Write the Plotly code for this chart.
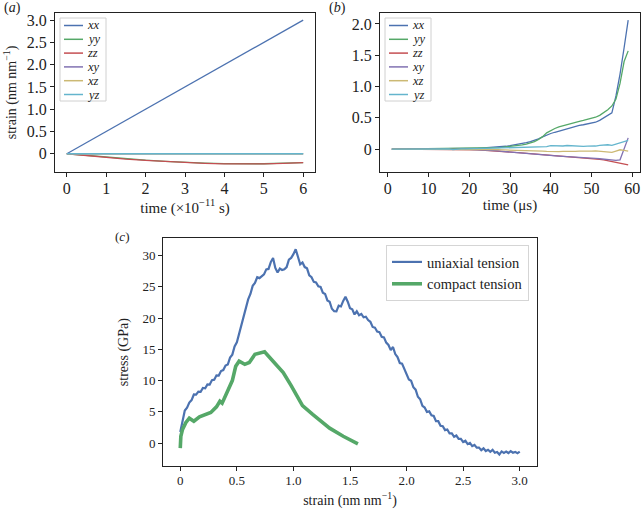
import plotly.graph_objects as go

# ---------------- data ----------------
comp_names = ["xx", "yy", "zz", "xy", "xz", "yz"]
comp_colors = ["#4C72B0", "#55A868", "#C44E52", "#8172B2", "#CCB974", "#64B5CD"]

# panel (a): time in 1e-11 s
time_a = [0, 0.5, 1, 1.5, 2, 2.5, 3, 3.5, 4, 4.5, 5, 5.5, 6]
a_xx = [0, 0.25, 0.5, 0.75, 1.0, 1.25, 1.5, 1.75, 2.0, 2.25, 2.5, 2.75, 3.0]
a_yy = [0, -0.04, -0.08, -0.115, -0.145, -0.17, -0.195, -0.21, -0.222, -0.228, -0.225, -0.212, -0.198]
a_zz = [0, -0.045, -0.085, -0.12, -0.15, -0.175, -0.2, -0.215, -0.228, -0.232, -0.228, -0.215, -0.2]
a_xy = [0, 0, 0, 0, 0, 0, 0, 0, 0, 0, 0, 0, 0]
a_xz = [0, 0, 0, 0, 0, 0, 0, 0, 0, 0, 0, 0, 0]
a_yz = [0, 0, 0, 0, 0, 0, 0, 0, 0, 0, 0, 0, 0]

# panel (b): time in microseconds
time_b = [1, 2, 3, 4, 5, 6, 7, 8, 9, 10, 11, 12, 13, 14, 15, 16, 17, 18, 19, 20,
          21, 22, 23, 24, 25, 26, 27, 28, 29, 30, 31, 32, 33, 34, 35, 36, 37, 38, 39, 40,
          41, 42, 43, 44, 45, 46, 47, 48, 49, 50, 51, 52, 53, 54, 55, 56, 57, 58, 59]
b_xx = [0.0, 0.0, 0.001, 0.0, 0.001, 0.0, 0.001, 0.002, 0.001, 0.002,
        0.002, 0.003, 0.004, 0.003, 0.005, 0.006, 0.006, 0.008, 0.009, 0.01,
        0.012, 0.014, 0.017, 0.02, 0.024, 0.028, 0.033, 0.039, 0.046, 0.055,
        0.065, 0.076, 0.089, 0.104, 0.12, 0.14, 0.165, 0.195, 0.225, 0.25,
        0.27, 0.29, 0.31, 0.33, 0.35, 0.365, 0.38, 0.39, 0.40, 0.415,
        0.43, 0.46, 0.50, 0.54, 0.58, 0.85, 1.2, 1.62, 2.06]
b_yy = [0.0, 0.001, 0.0, 0.001, 0.0, 0.002, 0.001, 0.0, 0.002, 0.001,
        0.003, 0.002, 0.004, 0.005, 0.004, 0.006, 0.007, 0.007, 0.008, 0.009,
        0.01, 0.011, 0.013, 0.015, 0.017, 0.02, 0.024, 0.029, 0.035, 0.042,
        0.05, 0.058, 0.068, 0.08, 0.095, 0.12, 0.155, 0.2, 0.26, 0.3,
        0.33, 0.355, 0.375, 0.395, 0.415, 0.43, 0.445, 0.46, 0.475, 0.49,
        0.51, 0.54, 0.58, 0.63, 0.69, 0.8, 1.05, 1.4, 1.57]
b_zz = [0.0, 0.0, 0.0, -0.001, 0.0, -0.001, 0.0, -0.001, -0.002, -0.001,
        -0.002, -0.002, -0.003, -0.003, -0.004, -0.004, -0.005, -0.006, -0.007, -0.008,
        -0.01, -0.012, -0.015, -0.018, -0.022, -0.026, -0.03, -0.035, -0.04, -0.045,
        -0.05, -0.055, -0.06, -0.065, -0.07, -0.075, -0.08, -0.085, -0.09, -0.097,
        -0.103, -0.108, -0.112, -0.116, -0.12, -0.124, -0.128, -0.133, -0.138, -0.145,
        -0.153, -0.162, -0.172, -0.183, -0.195, -0.207, -0.22, -0.235, -0.25]
b_xy = [0.0, 0.001, 0.0, 0.0, -0.001, 0.0, 0.001, 0.0, -0.001, 0.0,
        -0.001, 0.0, -0.002, -0.001, -0.003, -0.002, -0.004, -0.003, -0.004, -0.005,
        -0.006, -0.008, -0.011, -0.015, -0.019, -0.024, -0.029, -0.035, -0.041, -0.047,
        -0.053, -0.059, -0.065, -0.071, -0.077, -0.082, -0.087, -0.091, -0.095, -0.1,
        -0.105, -0.11, -0.114, -0.117, -0.12, -0.122, -0.125, -0.13, -0.135, -0.14,
        -0.146, -0.153, -0.16, -0.167, -0.172, -0.178, -0.17, 0.0, 0.18]
b_xz = [0.0, 0.0, 0.001, 0.0, 0.0, 0.002, 0.0, 0.001, 0.0, 0.001,
        0.002, 0.001, 0.003, 0.004, 0.002, 0.001, 0.0, -0.001, 0.0, -0.002,
        -0.003, -0.002, -0.004, -0.005, -0.006, -0.008, -0.009, -0.01, -0.011, -0.012,
        -0.013, -0.015, -0.018, -0.02, -0.024, -0.027, -0.03, -0.032, -0.035, -0.038,
        -0.04, -0.038, -0.035, -0.038, -0.04, -0.035, -0.03, -0.033, -0.035, -0.03,
        -0.028, -0.035, -0.04, -0.045, -0.05, -0.03, -0.01, -0.02, -0.03]
b_yz = [0.0, 0.0, 0.0, 0.001, 0.0, 0.0, 0.001, 0.0, 0.0, 0.001,
        0.002, 0.001, 0.003, 0.012, 0.006, -0.006, 0.002, 0.004, 0.003, 0.005,
        0.005, 0.008, 0.01, 0.012, 0.012, 0.015, 0.018, 0.02, 0.02, 0.022,
        0.02, 0.025, 0.022, 0.025, 0.03, 0.028, 0.035, 0.03, 0.04, 0.055,
        0.05, 0.055, 0.05, 0.058, 0.052, 0.055, 0.05, 0.045, 0.048, 0.045,
        0.05, 0.06, 0.065, 0.07, 0.06, 0.08, 0.1, 0.12, 0.14]

# panel (c): stress-strain
strain_uni = [0.00, 0.02, 0.04, 0.06, 0.08, 0.10, 0.12, 0.14, 0.16, 0.18,
              0.20, 0.22, 0.24, 0.26, 0.28, 0.30, 0.32, 0.34, 0.36, 0.38,
              0.40, 0.42, 0.44, 0.46, 0.48, 0.50, 0.52, 0.54, 0.56, 0.58,
              0.60, 0.62, 0.64, 0.66, 0.68, 0.70, 0.72, 0.74, 0.76, 0.78,
              0.80, 0.82, 0.84, 0.86, 0.88, 0.90, 0.92, 0.94, 0.96, 0.98,
              1.00, 1.02, 1.04, 1.06, 1.08, 1.10, 1.12, 1.14, 1.16, 1.18,
              1.20, 1.22, 1.24, 1.26, 1.28, 1.30, 1.32, 1.34, 1.36, 1.38,
              1.40, 1.42, 1.44, 1.46, 1.48, 1.50, 1.52, 1.54, 1.56, 1.58,
              1.60, 1.62, 1.64, 1.66, 1.68, 1.70, 1.72, 1.74, 1.76, 1.78,
              1.80, 1.82, 1.84, 1.86, 1.88, 1.90, 1.92, 1.94, 1.96, 1.98,
              2.00, 2.02, 2.04, 2.06, 2.08, 2.10, 2.12, 2.14, 2.16, 2.18,
              2.20, 2.22, 2.24, 2.26, 2.28, 2.30, 2.32, 2.34, 2.36, 2.38,
              2.40, 2.42, 2.44, 2.46, 2.48, 2.50, 2.52, 2.54, 2.56, 2.58,
              2.60, 2.62, 2.64, 2.66, 2.68, 2.70, 2.72, 2.74, 2.76, 2.78,
              2.80, 2.82, 2.84, 2.86, 2.88, 2.90, 2.92, 2.94, 2.96, 2.98, 3.00]
stress_uni = [1.8, 3.82, 5.22, 5.68, 6.5, 6.88, 7.78, 7.75, 8.25, 8.22,
              8.82, 8.78, 9.4, 9.38, 10.08, 10.15, 10.85, 10.82, 11.52, 11.68,
              12.4, 12.58, 13.68, 14.15, 15.45, 16.12, 17.52, 18.48, 20.3, 21.28,
              22.98, 23.85, 25.15, 25.62, 26.52, 26.38, 26.7, 26.98, 27.78, 27.85,
              28.95, 29.6, 28.02, 27.28, 27.9, 27.68, 27.78, 28.15, 29.35, 29.62,
              30.22, 31.0, 29.8, 28.58, 28.88, 28.15, 27.95, 26.82, 26.52, 25.78,
              25.7, 25.08, 24.98, 24.05, 23.85, 22.82, 22.62, 21.48, 21.1, 21.08,
              21.98, 21.85, 22.75, 23.4, 22.62, 21.58, 21.4, 20.58, 21.08, 20.45,
              20.65, 20.12, 20.22, 19.68, 19.4, 18.58, 18.48, 17.85, 17.75, 17.02,
              16.92, 16.08, 15.7, 14.88, 15.38, 14.25, 13.75, 12.82, 12.72, 11.88,
              11.3, 10.18, 9.98, 8.95, 8.55, 7.42, 7.02, 5.98, 5.7, 4.98,
              5.08, 4.45, 4.35, 3.52, 3.52, 2.78, 2.7, 2.08, 2.18, 1.55,
              1.55, 1.02, 1.22, 0.68, 0.7, 0.18, 0.38, -0.15, 0.05, -0.48,
              -0.28, -0.72, -0.7, -1.12, -0.82, -1.25, -1.05, -1.38, -1.08, -1.52,
              -1.4, -1.82, -1.32, -1.55, -1.35, -1.58, -1.28, -1.52, -1.4, -1.62, -1.35]
strain_ct = [0, 0.005, 0.02, 0.05, 0.08, 0.1, 0.12, 0.17, 0.23, 0.27, 0.32, 0.35, 0.37,
             0.42, 0.46, 0.49, 0.52, 0.57, 0.61, 0.66, 0.745, 0.82, 0.91, 0.98,
             1.08, 1.17, 1.32, 1.44, 1.57]
stress_ct = [-0.8, 1.1, 2.2, 3.3, 4.0, 3.8, 3.5, 4.2, 4.7, 4.9, 5.8, 6.7, 6.4,
             8.4, 10.0, 12.3, 13.1, 12.6, 12.9, 14.2, 14.6, 13.1, 11.3, 9.2,
             6.0, 4.6, 2.4, 1.1, -0.1]

# ---------------- figure ----------------
W, H = 641, 509
FONT = "Liberation Serif"
INK = "#222"


def px(x):
    return x / W


def py(y):
    return 1 - y / H


fig = go.Figure()

series_a = [a_xx, a_yy, a_zz, a_xy, a_xz, a_yz]
series_b = [b_xx, b_yy, b_zz, b_xy, b_xz, b_yz]
for name, col, ys in zip(comp_names, comp_colors, series_a):
    fig.add_trace(go.Scatter(x=time_a, y=ys, mode="lines", name=name, showlegend=False,
                             line=dict(color=col, width=1.3), xaxis="x", yaxis="y"))
for name, col, ys in zip(comp_names, comp_colors, series_b):
    fig.add_trace(go.Scatter(x=time_b, y=ys, mode="lines", name=name, showlegend=False,
                             line=dict(color=col, width=1.3), xaxis="x2", yaxis="y2"))
fig.add_trace(go.Scatter(x=strain_uni, y=stress_uni, mode="lines", name="uniaxial tension",
                         line=dict(color="#4C72B0", width=2.2), xaxis="x3", yaxis="y3"))
fig.add_trace(go.Scatter(x=strain_ct, y=stress_ct, mode="lines", name="compact tension",
                         line=dict(color="#55A868", width=3.6), xaxis="x3", yaxis="y3"))

axis_common = dict(showline=True, linecolor=INK, linewidth=1.3, mirror=True,
                   ticks="outside", ticklen=4, tickwidth=1, tickcolor=INK,
                   showgrid=False, zeroline=False, automargin=False)

tick_ab = dict(family=FONT, size=16, color=INK)
title_ab = dict(family=FONT, size=15, color=INK)
tick_c = dict(family=FONT, size=13, color=INK)
title_c = dict(family=FONT, size=14, color=INK)

# compact legends for panels (a) and (b), drawn in the matplotlib style
shapes = []
annotations = []
for left in (60, 385):
    top, row0, rowstep = 18, 25.5, 13.8
    shapes.append(dict(type="rect", xref="paper", yref="paper",
                       x0=px(left), x1=px(left + 46), y0=py(top + 83), y1=py(top),
                       line=dict(color="#d0d0d0", width=1), fillcolor="rgba(255,255,255,0.85)",
                       layer="above"))
    for i, (name, col) in enumerate(zip(comp_names, comp_colors)):
        yy = row0 + i * rowstep
        shapes.append(dict(type="line", xref="paper", yref="paper",
                           x0=px(left + 4), x1=px(left + 23), y0=py(yy), y1=py(yy),
                           line=dict(color=col, width=1.5), layer="above"))
        annotations.append(dict(text="<i>%s</i>" % name, x=px(left + 26), y=py(yy),
                                xref="paper", yref="paper", xanchor="left", yanchor="middle",
                                borderpad=0, showarrow=False,
                                font=dict(family=FONT, size=12.5, color=INK)))

annotations += [
    dict(text="(<i>a</i>)", x=px(12), y=py(8), xref="paper", yref="paper",
         xanchor="center", yanchor="middle",
         borderpad=0, showarrow=False, font=dict(family=FONT, size=14, color=INK)),
    dict(text="(<i>b</i>)", x=px(337), y=py(8), xref="paper", yref="paper",
         xanchor="center", yanchor="middle",
         borderpad=0, showarrow=False, font=dict(family=FONT, size=14, color=INK)),
    dict(text="(<i>c</i>)", x=px(122), y=py(236), xref="paper", yref="paper",
         xanchor="center", yanchor="middle",
         borderpad=0, showarrow=False, font=dict(family=FONT, size=13, color=INK)),
]

fig.update_layout(
    width=W, height=H,
    margin=dict(l=0, r=0, t=0, b=0),
    paper_bgcolor="white", plot_bgcolor="white",
    font=dict(family=FONT, color=INK),
    showlegend=True,
    xaxis=dict(domain=[px(55), px(315)], anchor="y", range=[-0.3, 6.3],
               tickvals=[0, 1, 2, 3, 4, 5, 6], ticktext=["0", "1", "2", "3", "4", "5", "6"],
               tickfont=tick_ab, ticklabelstandoff=-2,
               title=dict(text="time (×10<sup>−11</sup> s)", font=title_ab, standoff=0),
               **axis_common),
    yaxis=dict(domain=[py(172), py(13)], anchor="x", range=[-0.41, 3.16],
               tickvals=[0, 0.5, 1, 1.5, 2, 2.5, 3],
               ticktext=["0", "0.5", "1.0", "1.5", "2.0", "2.5", "3.0"],
               tickfont=tick_ab,
               title=dict(text="strain (nm nm<sup>−1</sup>)", font=dict(family=FONT, size=14, color=INK),
                          standoff=6),
               **axis_common),
    xaxis2=dict(domain=[px(380), px(640)], anchor="y2", range=[-1.9, 61.9],
                tickvals=[0, 10, 20, 30, 40, 50, 60],
                ticktext=["0", "10", "20", "30", "40", "50", "60"],
                tickfont=tick_ab, ticklabelstandoff=-2,
                title=dict(text="time (μs)", font=title_ab, standoff=0),
                **axis_common),
    yaxis2=dict(domain=[py(172), py(13)], anchor="x2", range=[-0.365, 2.175],
                tickvals=[0, 0.5, 1, 1.5, 2],
                ticktext=["0", "0.5", "1.0", "1.5", "2.0"],
                tickfont=tick_ab, **axis_common),
    xaxis3=dict(domain=[px(163.3), px(536.7)], anchor="y3", range=[-0.15, 3.15],
                tickvals=[0, 0.5, 1, 1.5, 2, 2.5, 3],
                ticktext=["0", "0.5", "1.0", "1.5", "2.0", "2.5", "3.0"],
                tickfont=tick_c, ticklabelstandoff=-2,
                title=dict(text="strain (nm nm<sup>−1</sup>)", font=title_c, standoff=9),
                **axis_common),
    yaxis3=dict(domain=[py(466), py(238.3)], anchor="x3", range=[-3.65, 32.75],
                tickvals=[0, 5, 10, 15, 20, 25, 30],
                ticktext=["0", "5", "10", "15", "20", "25", "30"],
                tickfont=tick_c,
                title=dict(text="stress (GPa)", font=title_c, standoff=10),
                **axis_common),
    legend=dict(x=px(529), y=py(245), xanchor="right", yanchor="top",
                bgcolor="rgba(255,255,255,0.85)", bordercolor="#d5d5d5", borderwidth=1,
                font=dict(family=FONT, size=14.5, color=INK), itemwidth=30,
                tracegroupgap=0),
    shapes=shapes,
    annotations=annotations,
)

fig.write_html("out.html", config={"displayModeBar": False},
               post_script="document.body.style.margin='0px';")
